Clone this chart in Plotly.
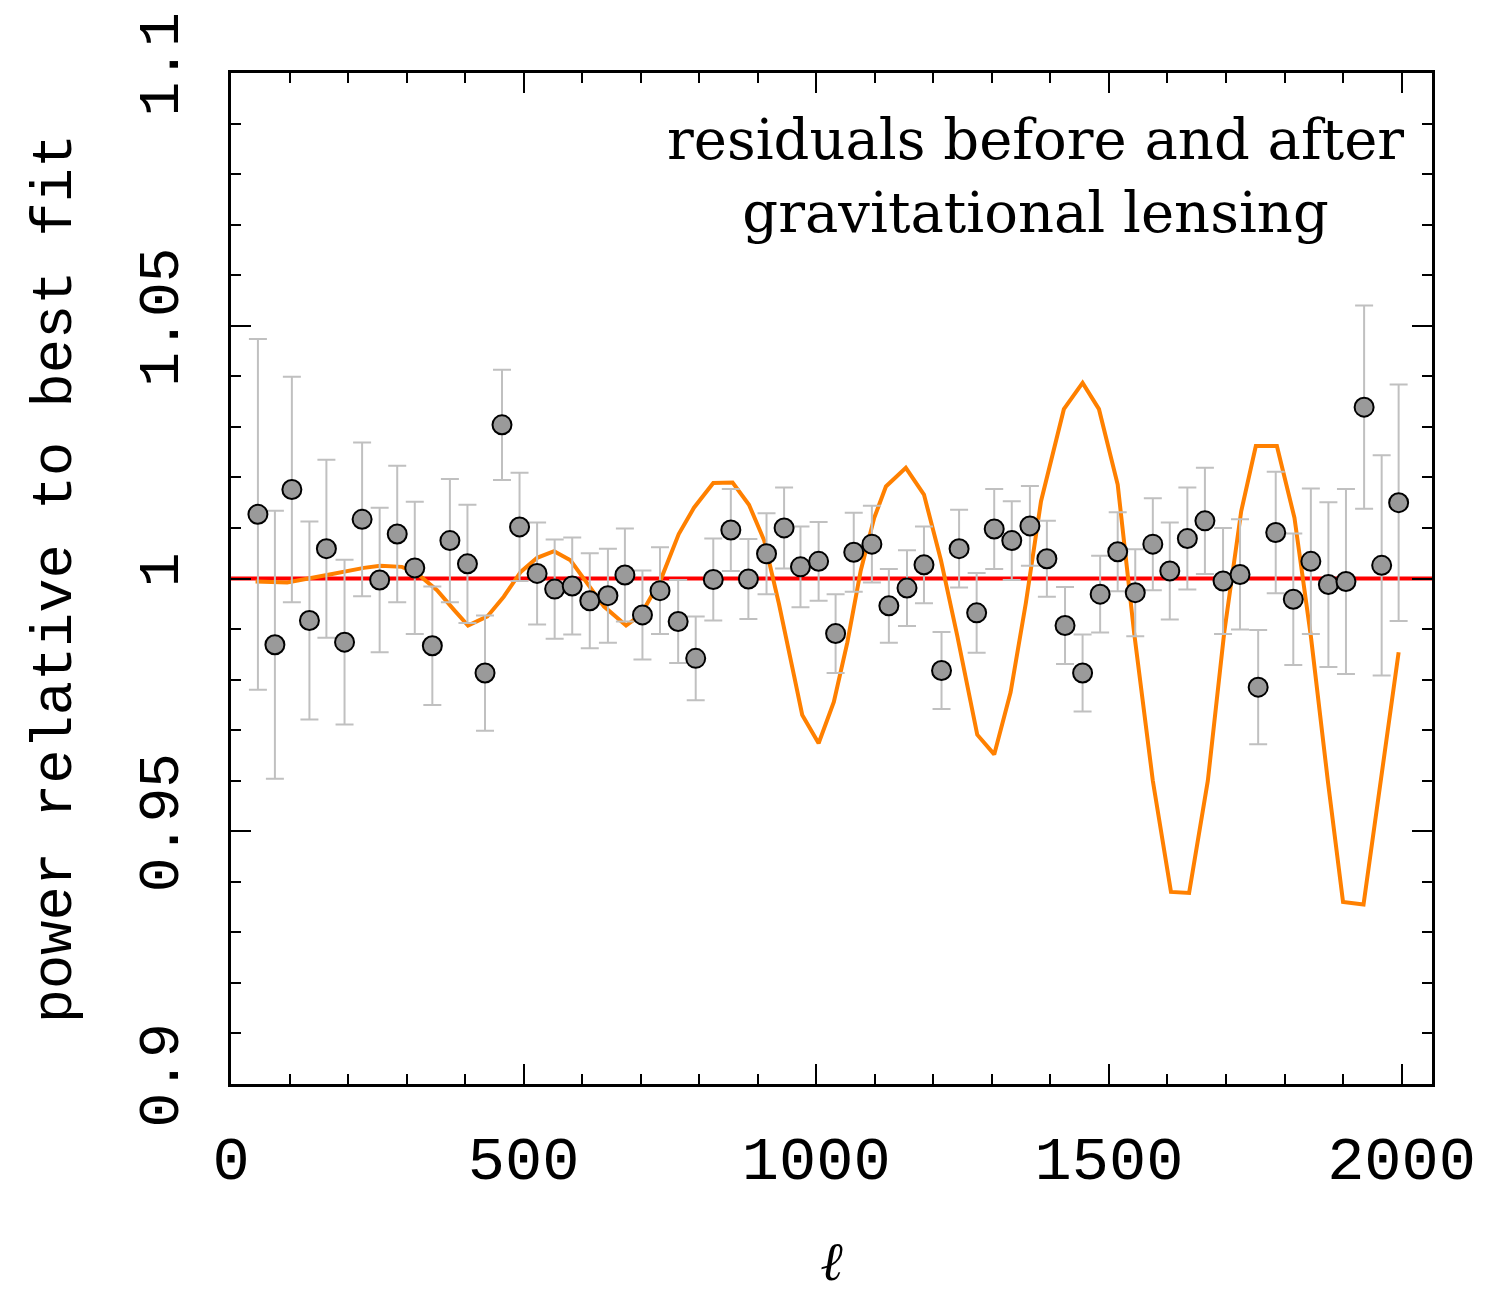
import plotly.graph_objects as go

# ---- data ----
ell = [46, 75, 104, 134, 163, 194, 224, 254, 284, 314,
       344, 374, 404, 434, 463, 493, 523, 553, 583, 613,
       644, 673, 703, 733, 764, 794, 824, 854, 884, 915,
       945, 973, 1004, 1033, 1064, 1095, 1124, 1155, 1184, 1214,
       1244, 1274, 1304, 1334, 1365, 1394, 1425, 1455, 1485, 1515,
       1545, 1575, 1604, 1634, 1664, 1695, 1724, 1755, 1785, 1815,
       1845, 1875, 1905, 1936, 1966, 1995]

ratio = [1.0127, 0.9869, 1.0176, 0.9917, 1.0059, 0.9874, 1.0117, 0.9997, 1.0088, 1.0021,
         0.9867, 1.0075, 1.0029, 0.9813, 1.0304, 1.0102, 1.0010, 0.9979, 0.9985, 0.9956,
         0.9966, 1.0007, 0.9928, 0.9976, 0.9915, 0.9842, 0.9998, 1.0096, 0.9999, 1.0049,
         1.0100, 1.0023, 1.0034, 0.9891, 1.0052, 1.0068, 0.9946, 0.9981, 1.0027, 0.9818,
         1.0059, 0.9932, 1.0098, 1.0075, 1.0104, 1.0039, 0.9907, 0.9813, 0.9969, 1.0053,
         0.9972, 1.0068, 1.0015, 1.0079, 1.0114, 0.9995, 1.0008, 0.9785, 1.0091, 0.9959,
         1.0034, 0.9988, 0.9994, 1.0339, 1.0026, 1.0150]

err = [0.0347, 0.0265, 0.0223, 0.0196, 0.0176, 0.0163, 0.0152, 0.0143, 0.0135, 0.0131,
       0.0117, 0.0122, 0.0117, 0.0114, 0.0109, 0.0107, 0.0101, 0.0098, 0.0096, 0.0094,
       0.0093, 0.0092, 0.0088, 0.0086, 0.0082, 0.0083, 0.0081, 0.0081, 0.0079, 0.0080,
       0.0080, 0.0080, 0.0078, 0.0078, 0.0078, 0.0076, 0.0073, 0.0075, 0.0076, 0.0076,
       0.0077, 0.0079, 0.0079, 0.0078, 0.0079, 0.0075, 0.0076, 0.0076, 0.0076, 0.0078,
       0.0086, 0.0091, 0.0096, 0.0101, 0.0105, 0.0105, 0.0109, 0.0113, 0.0120, 0.0130,
       0.0144, 0.0163, 0.0183, 0.0201, 0.0218, 0.0234]

lens_ell = [42, 96, 164, 227, 255, 292, 318, 352, 381, 405,
            438, 466, 495, 523, 552, 580, 609, 637, 675, 700,
            734, 765, 791, 824, 857, 885, 911, 936, 962, 976,
            1004, 1030, 1053, 1076, 1099, 1119, 1153, 1184, 1213, 1241,
            1275, 1304, 1332, 1358, 1384, 1423, 1455, 1483, 1515, 1543,
            1575, 1606, 1637, 1669, 1697, 1726, 1751, 1787, 1817, 1845,
            1874, 1900, 1935, 1965, 1995]
lens_ratio = [0.9994, 0.9992, 1.0007, 1.0021, 1.0025, 1.0023, 1.0010, 0.9977, 0.9938, 0.9907,
              0.9925, 0.9964, 1.0013, 1.0041, 1.0054, 1.0036, 0.9990, 0.9945, 0.9907, 0.9928,
              0.9997, 1.0088, 1.0140, 1.0189, 1.0190, 1.0146, 1.0075, 0.9951, 0.9808, 0.9730,
              0.9674, 0.9756, 0.9873, 1.0016, 1.0120, 1.0182, 1.0219, 1.0166, 1.0036, 0.9886,
              0.9691, 0.9652, 0.9775, 0.9951, 1.0153, 1.0335, 1.0387, 1.0335, 1.0186, 0.9893,
              0.9600, 0.9380, 0.9378, 0.9600, 0.9893, 1.0133, 1.0262, 1.0262, 1.0120, 0.9886,
              0.9600, 0.9360, 0.9355, 0.9600, 0.9854]

best_fit = 1.0
x_range = [0, 2052]
y_range = [0.9, 1.1]
x_ticks = [0, 500, 1000, 1500, 2000]
y_ticks = [0.9, 0.95, 1, 1.05, 1.1]
y_tick_text = ["0.9", "0.95", "1", "1.05", "1.1"]

fig = go.Figure()

fig.add_hline(y=best_fit, line=dict(color="#ff0000", width=4), layer="below")

fig.add_trace(go.Scatter(
    x=lens_ell, y=lens_ratio, mode="lines",
    line=dict(color="#ff8000", width=4), showlegend=False,
))

fig.add_trace(go.Scatter(
    x=ell, y=ratio, mode="markers",
    marker=dict(size=19, color="#9a9a9a", line=dict(color="black", width=2)),
    error_y=dict(type="data", array=err, visible=True, color="#c0c0c0", thickness=2, width=9),
    showlegend=False,
))

fig.add_annotation(
    x=0.670, y=0.898, xref="paper", yref="paper",
    text="residuals before and after<br>gravitational lensing",
    showarrow=False, align="center", xanchor="center", yanchor="middle",
    font=dict(family="DejaVu Serif", size=56, color="black"),
)

mono = "Liberation Mono"
fig.update_xaxes(
    range=x_range, tickvals=x_ticks, ticks="inside", ticklen=20, tickwidth=2,
    tickcolor="black", showline=True, linecolor="black", linewidth=3, mirror="ticks",
    showgrid=False, zeroline=False,
    minor=dict(dtick=100, ticks="inside", ticklen=10, tickwidth=2, tickcolor="black", showgrid=False),
    tickfont=dict(family=mono, size=62, color="black"), ticklabelstandoff=18,
    title=dict(text="<i>ℓ</i>", font=dict(family="DejaVu Serif", size=54, color="black"), standoff=45),
)
fig.update_yaxes(
    range=y_range, tickvals=y_ticks, ticktext=y_tick_text, tickangle=-90,
    ticks="inside", ticklen=20, tickwidth=2,
    tickcolor="black", showline=True, linecolor="black", linewidth=3, mirror="ticks",
    showgrid=False, zeroline=False,
    minor=dict(dtick=0.01, ticks="inside", ticklen=10, tickwidth=2, tickcolor="black", showgrid=False),
    tickfont=dict(family=mono, size=58, color="black"), ticklabelstandoff=27,
    title=dict(text="power relative to best fit", font=dict(family=mono, size=57, color="black"), standoff=40),
)

fig.update_layout(
    width=1496, height=1293,
    margin=dict(l=231, r=64, t=63, b=207),
    plot_bgcolor="white", paper_bgcolor="white",
)

fig.write_html("out.html")
